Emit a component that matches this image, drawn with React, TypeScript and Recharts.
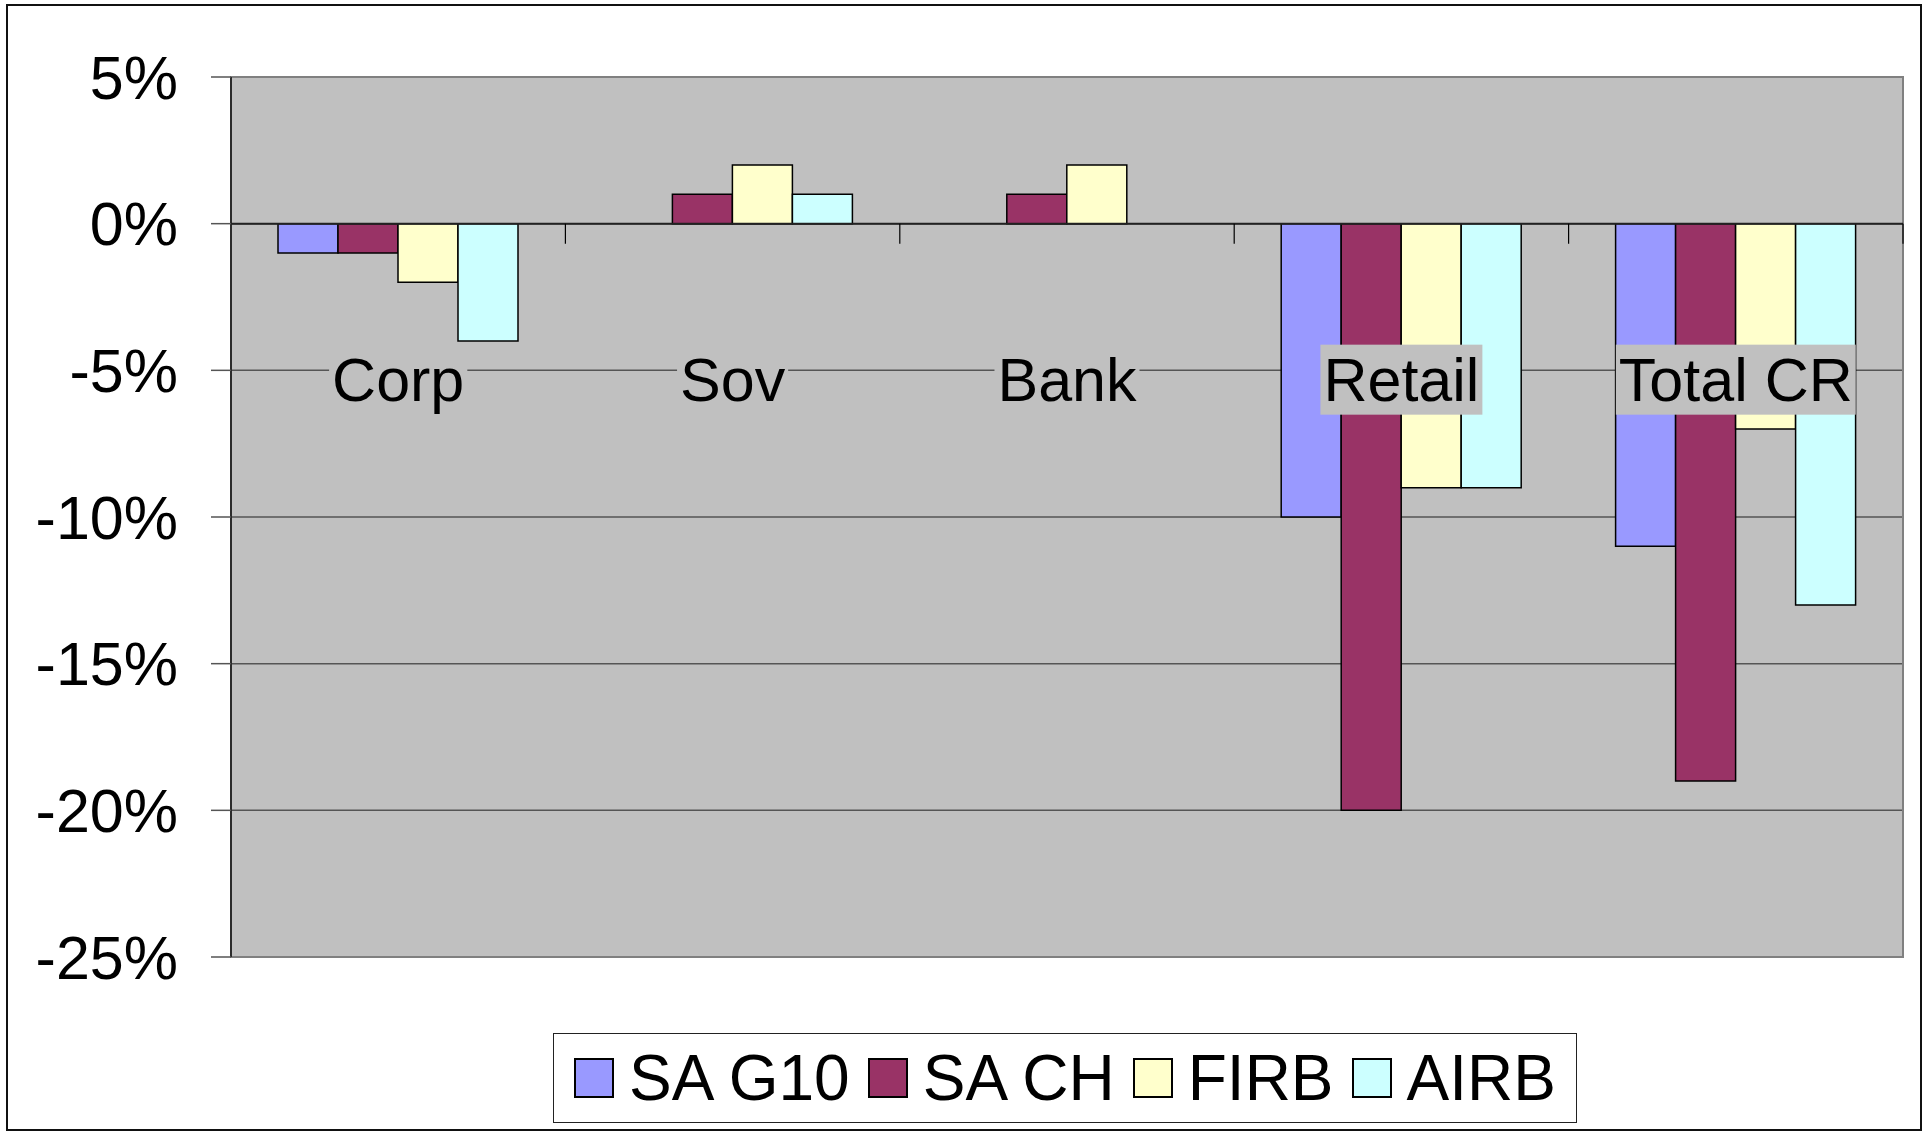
import { Bar, BarChart, CartesianGrid, Legend, ReferenceArea, ReferenceLine, XAxis, YAxis } from 'recharts'

const categories = ['Corp', 'Sov', 'Bank', 'Retail', 'Total CR']
const saG10 = [-1, 0, 0, -10, -11]
const saCh = [-1, 1, 1, -20, -19]
const firb = [-2, 2, 2, -9, -7]
const airb = [-4, 1, 0, -9, -13]
const yTicks = [5, 0, -5, -10, -15, -20, -25]

const series = [
  { key: 'saG10', name: 'SA G10', values: saG10, color: '#9999FF' },
  { key: 'saCh', name: 'SA CH', values: saCh, color: '#993366' },
  { key: 'firb', name: 'FIRB', values: firb, color: '#FFFFCC' },
  { key: 'airb', name: 'AIRB', values: airb, color: '#CCFFFF' },
]

const data = categories.map((name, i) => {
  const row: Record<string, string | number> = { name }
  series.forEach((s) => {
    row[s.key] = s.values[i]
  })
  return row
})

const FONT = "'Liberation Sans', Arial, sans-serif"
const FONT_SIZE = 61
const LEGEND_FONT_SIZE = 64
const PLOT_BG = '#C0C0C0'

function measure(text: string) {
  const ctx = document.createElement('canvas').getContext('2d')
  if (!ctx) return text.length * FONT_SIZE * 0.55
  ctx.font = `${FONT_SIZE}px ${FONT}`
  return ctx.measureText(text).width
}

// zero line drawn like Excel's category axis: line, boundary ticks, labels on grey boxes
function CategoryAxis(props: any) {
  const left = Math.min(props.x1, props.x2)
  const right = Math.max(props.x1, props.x2)
  const y0 = props.y1
  const band = (right - left) / categories.length
  return (
    <g>
      <line x1={left} x2={right} y1={y0} y2={y0} stroke="#222" strokeWidth={2} />
      {categories.map((c, i) => {
        const x = left + band * (i + 1)
        return <line key={'t' + c} x1={x} x2={x} y1={y0} y2={y0 + 20} stroke="#000" strokeWidth={1.2} />
      })}
      {categories.map((c, i) => {
        const cx = left + band * (i + 0.5)
        const w = measure(c) + 6
        const base = y0 + 177
        return (
          <g key={'l' + c}>
            <rect x={cx - w / 2} y={base - 56} width={w} height={70} fill={PLOT_BG} />
            <text x={cx} y={base} textAnchor="middle" fontSize={FONT_SIZE} fontFamily={FONT} fill="#000">
              {c}
            </text>
          </g>
        )
      })}
    </g>
  )
}

function LegendBox() {
  return (
    <div
      style={{
        boxSizing: 'border-box',
        width: 1024,
        height: 90,
        border: '1.5px solid #222',
        background: '#fff',
        display: 'flex',
        alignItems: 'center',
        justifyContent: 'center',
        fontFamily: FONT,
        fontSize: LEGEND_FONT_SIZE,
        lineHeight: `${LEGEND_FONT_SIZE}px`,
        color: '#000',
      }}
    >
      {series.map((s, i) => (
        <div key={s.key} style={{ display: 'flex', alignItems: 'center', marginRight: i < series.length - 1 ? 18 : 0 }}>
          <span
            style={{
              boxSizing: 'border-box',
              display: 'inline-block',
              width: 40,
              height: 40,
              background: s.color,
              border: '2px solid #000',
              marginRight: 15,
            }}
          />
          <span>{s.name}</span>
        </div>
      ))}
    </div>
  )
}

export default function App() {
  return (
    <div style={{ position: 'absolute', left: 0, top: 0, width: 1930, height: 1132, background: '#fff' }}>
      <div
        style={{
          position: 'absolute',
          left: 6,
          top: 4,
          width: 1916,
          height: 1127,
          boxSizing: 'border-box',
          border: '2px solid #111',
        }}
      />
      <div style={{ position: 'absolute', left: 0, top: 0 }}>
        <BarChart
          width={1930}
          height={1132}
          data={data}
          margin={{ top: 77, right: 27, bottom: 175, left: 0 }}
          barGap={0}
          barSize={60}
        >
          <CartesianGrid vertical={false} stroke="#555" strokeWidth={1.5} fill={PLOT_BG} fillOpacity={1} />
          <XAxis dataKey="name" hide />
          <YAxis
            domain={[-25, 5]}
            ticks={yTicks}
            interval={0}
            width={231}
            tickFormatter={(v: number) => `${v}%`}
            tick={{ fill: '#000', fontSize: FONT_SIZE, fontFamily: FONT }}
            tickSize={20}
            tickMargin={33}
            tickLine={{ stroke: '#555', strokeWidth: 1.5 }}
            axisLine={{ stroke: '#111', strokeWidth: 1.5 }}
            allowDataOverflow
          />
          <ReferenceArea y1={-25} y2={5} fill="none" stroke="#808080" strokeWidth={2} />
          {series.map((s) => (
            <Bar
              key={s.key}
              dataKey={s.key}
              name={s.name}
              fill={s.color}
              stroke="#000"
              strokeWidth={1.5}
              isAnimationActive={false}
            />
          ))}
          <ReferenceLine y={0} shape={CategoryAxis} zIndex={1500} />
          <Legend
            layout="horizontal"
            verticalAlign="middle"
            align="center"
            content={() => <LegendBox />}
            wrapperStyle={{ left: 553, top: 1033, width: 1024, height: 90 }}
          />
        </BarChart>
      </div>
    </div>
  )
}
